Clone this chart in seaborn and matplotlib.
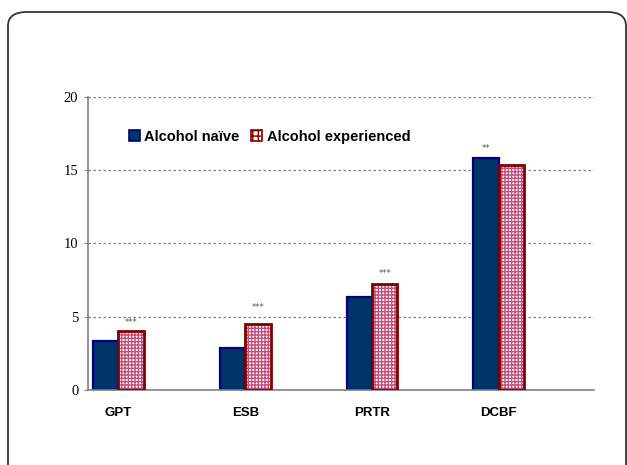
import pandas as pd
import numpy as np
import matplotlib
matplotlib.use("Agg")
import matplotlib.pyplot as plt
import seaborn as sns
from matplotlib.patches import FancyBboxPatch, Rectangle, Patch

# data
tasks = ["GPT", "ESB", "PRTR", "DCBF"]
groups = ["Alcohol naïve", "Alcohol experienced"]
naive = [3.34, 2.89, 6.32, 15.86]
experienced = [4.04, 4.50, 7.22, 15.36]
stars_naive = ["", "", "", "**"]
stars_exp = ["***", "***", "***", ""]
star_gap = [0.55, 1.1, 0.75, 0.6]

df = pd.DataFrame({
    "task": tasks * 2,
    "group": [groups[0]] * 4 + [groups[1]] * 4,
    "value": naive + experienced,
})

sns.set_style("white")
plt.rcParams["text.color"] = "black"
narrow = ["Liberation Sans Narrow", "Liberation Sans", "DejaVu Sans"]

fig = plt.figure(figsize=(6.27, 4.65), dpi=100)
ax = fig.add_axes([0.1404, 0.1613, 0.8066, 0.6301])

sns.barplot(data=df, x="task", y="value", hue="group", order=tasks,
            hue_order=groups, palette=["#003366", "#ffffff"], width=0.4,
            gap=0, errorbar=None, ax=ax, legend=False, saturation=1)

n = len(tasks)
bars_naive = ax.patches[:n]
bars_exp = ax.patches[n:2 * n]
for p in bars_naive:
    p.set_edgecolor("#000080")
    p.set_linewidth(1.6)
for p in bars_exp:
    p.set_facecolor("white")
    p.set_edgecolor("#c0507a")
    p.set_hatch("+++++")
    p.set_linewidth(0)
    ax.add_patch(Rectangle(p.get_xy(), p.get_width(), p.get_height(),
                           fill=False, edgecolor="#800000", linewidth=2.0, zorder=3))

for i in range(n):
    for p, s in ((bars_naive[i], stars_naive[i]), (bars_exp[i], stars_exp[i])):
        if s:
            ax.text(p.get_x() + p.get_width() / 2, p.get_height() + star_gap[i], s,
                    ha="center", va="center", fontsize=6, color="#555555")

ax.set_xlim(-0.24, 3.75)
ax.set_ylim(0, 20)
ax.set_yticks([0, 5, 10, 15, 20])
ax.set_yticklabels(["0", "5", "10", "15", "20"], family="Liberation Serif", fontsize=10.5)
ax.set_xticks(range(n))
ax.set_xticklabels(tasks, family=narrow, fontweight="bold", fontsize=9.5,
                   stretch="condensed")
ax.tick_params(axis="x", length=0, pad=12, labelcolor="black")
ax.tick_params(axis="y", length=3, width=0.8, color="#808080", pad=4, left=True,
               labelcolor="black")
ax.set_xlabel("")
ax.set_ylabel("")

for y in [5, 10, 15, 20]:
    ax.axhline(y, color="#808080", linestyle=(0, (2, 2)), linewidth=0.9, zorder=0)

for side in ["top", "right"]:
    ax.spines[side].set_visible(False)
for side in ["left", "bottom"]:
    ax.spines[side].set_color("#808080")
    ax.spines[side].set_linewidth(1.2)

handles = [Patch(facecolor="#003366", edgecolor="#000080", linewidth=1.2),
           Patch(facecolor="white", edgecolor="#800000", hatch="+++", linewidth=1.2)]
ax.legend(handles, groups, loc="center left", bbox_to_anchor=(0.055, 0.865),
          ncol=2, frameon=False, handlelength=0.75, handleheight=0.75,
          handletextpad=0.3, columnspacing=0.8, labelcolor="black",
          prop={"family": narrow, "weight": "bold", "size": 10.5,
                "stretch": "condensed"})

# rounded frame around the panel
frame = FancyBboxPatch((8 / 627, -0.2), (626 - 8) / 627, (465 - 12) / 465 + 0.2,
                       boxstyle="round,pad=0,rounding_size=0.03",
                       transform=fig.transFigure, fill=False,
                       edgecolor="#333333", linewidth=1.3, clip_on=False)
fig.patches.append(frame)

fig.savefig("out.png", dpi=100)
